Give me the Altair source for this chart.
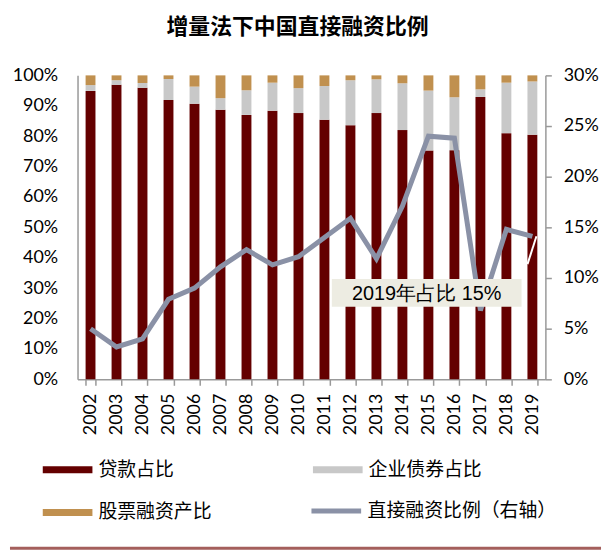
import altair as alt
import pandas as pd

years = [str(y) for y in range(2002, 2020)]
loan_pct = [94.9, 96.9, 95.9, 91.9, 90.7, 88.7, 87.0, 88.4, 87.6, 85.4, 83.6, 87.6, 82.0, 75.3, 75.4, 92.9, 81.0, 80.5]
bond_pct = [1.9, 1.5, 1.6, 6.9, 5.6, 3.8, 8.1, 9.2, 8.2, 11.1, 14.8, 11.1, 15.4, 19.7, 17.4, 2.5, 16.6, 17.5]
equity_pct = [3.2, 1.6, 2.5, 1.2, 3.7, 7.5, 4.9, 2.4, 4.2, 3.5, 1.6, 1.3, 2.6, 5.0, 7.2, 4.6, 2.4, 2.0]
direct_pct = [5.0, 3.2, 4.0, 7.9, 9.0, 11.1, 12.8, 11.3, 12.1, 14.0, 15.9, 11.9, 17.1, 24.0, 23.8, 6.8, 14.8, 14.1]

bar_series = ["贷款占比", "企业债券占比", "股票融资产比"]
legend_order = ["贷款占比", "股票融资产比", "企业债券占比"]
color_of = {"贷款占比": "#640000", "企业债券占比": "#C8C8C8", "股票融资产比": "#C0904F"}
line_series = "直接融资比例（右轴）"
line_color = "#8A91A6"
title_text = "增量法下中国直接融资比例"
annotation_text = "2019年占比 15%"

rows = []
for i, y in enumerate(years):
    for k, (name, vals) in enumerate(zip(bar_series, [loan_pct, bond_pct, equity_pct])):
        rows.append({"year": y, "series": name, "value": vals[i] / 100, "order": k})
bars_df = pd.DataFrame(rows)
line_df = pd.DataFrame({"year": years, "ratio": [v / 100 for v in direct_pct]})
ann_df = pd.DataFrame({"label": [annotation_text]})

num_font = "Lato"
cjk_font = "Noto Sans CJK SC"

x_enc = alt.X(
    "year:O",
    title=None,
    sort=years,
    scale=alt.Scale(paddingInner=0.62, paddingOuter=0.31),
    axis=alt.Axis(
        labelAngle=270, labelFont=num_font, labelFontSize=18, labelColor="#000",
        labelPadding=8, tickBand="extent", tickSize=6, tickColor="#999",
        domainColor="#999", domainWidth=1.5, tickWidth=1.5, grid=False,
    ),
)

bars = alt.Chart(bars_df).mark_bar().encode(
    x=x_enc,
    y=alt.Y(
        "value:Q", stack="zero", title=None,
        scale=alt.Scale(domain=[0, 1], nice=False),
        axis=alt.Axis(
            values=[i / 10 for i in range(11)], format=".0%", labelFont=num_font,
            labelFontSize=18, labelColor="#000", labelPadding=20, ticks=False,
            domainColor="#999", domainWidth=1.5, grid=False,
        ),
    ),
    color=alt.Color(
        "series:N",
        scale=alt.Scale(domain=legend_order, range=[color_of[s] for s in legend_order]),
        legend=alt.Legend(
            title=None, orient="none", legendX=-35, legendY=372, columns=2,
            columnPadding=101, rowPadding=8,
            symbolType="M-1,-0.14L1,-0.14L1,0.14L-1,0.14Z", symbolSize=2500,
            symbolStrokeWidth=0, symbolOpacity=1,
            labelFont=cjk_font, labelFontSize=19, labelColor="#000", labelOffset=6,
            labelLimit=300,
        ),
    ),
    order=alt.Order("order:Q", sort="ascending"),
)

line = alt.Chart(line_df).mark_line(strokeWidth=5, strokeJoin="miter").encode(
    x=alt.X("year:O", sort=years),
    y=alt.Y(
        "ratio:Q", title=None,
        scale=alt.Scale(domain=[0, 0.3], nice=False),
        axis=alt.Axis(
            orient="right", values=[0, 0.05, 0.1, 0.15, 0.2, 0.25, 0.3], format=".0%",
            labelFont=num_font, labelFontSize=18, labelColor="#000", labelPadding=12,
            tickSize=6, tickColor="#999", tickWidth=1.5,
            domainColor="#999", domainWidth=1.5, grid=False,
        ),
    ),
    stroke=alt.Stroke(
        "s:N",
        scale=alt.Scale(domain=[line_series], range=[line_color]),
        legend=alt.Legend(
            title=None, orient="none", legendX=233, legendY=411,
            symbolType="M-1,0L1,0", symbolSize=2500, symbolStrokeWidth=5,
            labelFont=cjk_font, labelFontSize=19, labelColor="#000", labelOffset=4,
            labelLimit=300,
        ),
    ),
).transform_calculate(s=f"'{line_series}'")

box = alt.Chart(ann_df).mark_rect(color="#EDECE2").encode(
    x=alt.value(256), x2=alt.value(447), y=alt.value(205), y2=alt.value(233)
)
box_text = alt.Chart(ann_df).mark_text(
    font="Liberation Sans", fontSize=20, color="#000", align="center", baseline="middle"
).encode(text="label:N", x=alt.value(351.5), y=alt.value(220))

leader = alt.Chart(ann_df).mark_rule(color="#FFFFFF", strokeWidth=2).encode(
    x=alt.value(462), x2=alt.value(453), y=alt.value(162), y2=alt.value(190)
)
bottom_rule = alt.Chart(ann_df).mark_rule(color="#A45F5C", strokeWidth=3).encode(
    x=alt.value(-68), x2=alt.value(527), y=alt.value(476)
)

chart = (
    alt.layer(bars, line, box, box_text, leader, bottom_rule)
    .resolve_scale(y="independent", color="independent")
    .properties(
        width=471, height=306,
        padding={"left": 0, "top": 6, "right": 0, "bottom": 0},
        title=alt.TitleParams(
            title_text, font=cjk_font, fontSize=22, fontWeight="bold", color="#000",
            anchor="middle", dx=-14, offset=28,
        ),
    )
    .configure_view(stroke=None)
)

chart.save("out.html", embed_options={"renderer": "svg", "actions": False})
